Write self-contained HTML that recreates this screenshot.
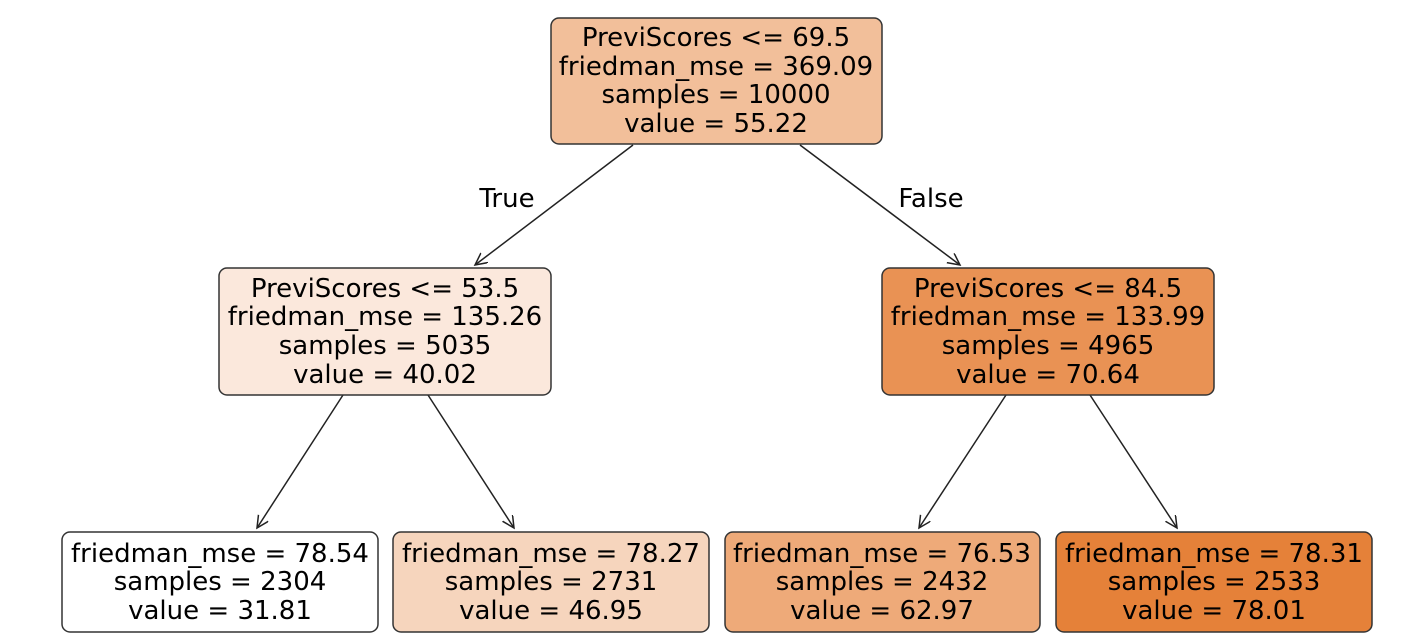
<!DOCTYPE html>
<html><head><meta charset="utf-8"><style>html,body{margin:0;padding:0;background:#fff}svg{display:block}</style></head>
<body>
<svg width="1404" height="644" viewBox="0 0 1404 644" xmlns="http://www.w3.org/2000/svg" font-family="DejaVu Sans, sans-serif" font-size="26" fill="#000">
<defs><marker id="a" markerWidth="14" markerHeight="14" refX="12" refY="6" orient="auto" markerUnits="userSpaceOnUse"><path d="M0,0 L12,6 L0,12" fill="none" stroke="#222" stroke-width="1.5"/></marker></defs>
<g stroke="#222" stroke-width="1.5" marker-end="url(#a)">
<line x1="633" y1="145" x2="475" y2="265"/>
<line x1="800" y1="145" x2="960" y2="265"/>
<line x1="343" y1="395" x2="257" y2="528"/>
<line x1="428" y1="395" x2="514" y2="528"/>
<line x1="1006" y1="395" x2="919" y2="528"/>
<line x1="1090" y1="395" x2="1177" y2="528"/>
</g>
<text x="507" y="207" text-anchor="middle">True</text>
<text x="931" y="207" text-anchor="middle">False</text>
<g stroke="#333" stroke-width="1.5">
<rect x="551" y="18" width="331" height="126" rx="8" fill="#f2bf9a"/>
<rect x="219" y="268" width="332" height="127" rx="8" fill="#fbe8dc"/>
<rect x="882" y="268" width="332" height="127" rx="8" fill="#e99254"/>
<rect x="62" y="532" width="316" height="100" rx="8" fill="#ffffff"/>
<rect x="393" y="532" width="316" height="100" rx="8" fill="#f6d5bd"/>
<rect x="725" y="532" width="315" height="100" rx="8" fill="#eeaa79"/>
<rect x="1056" y="532" width="316" height="100" rx="8" fill="#e58139"/>
</g>
<g text-anchor="middle">
<text x="716" y="46">PreviScores &lt;= 69.5</text>
<text x="716" y="75">friedman_mse = 369.09</text>
<text x="716" y="103">samples = 10000</text>
<text x="716" y="132">value = 55.22</text>
<text x="385" y="297">PreviScores &lt;= 53.5</text>
<text x="385" y="325">friedman_mse = 135.26</text>
<text x="385" y="354">samples = 5035</text>
<text x="385" y="383">value = 40.02</text>
<text x="1048" y="297">PreviScores &lt;= 84.5</text>
<text x="1048" y="325">friedman_mse = 133.99</text>
<text x="1048" y="354">samples = 4965</text>
<text x="1048" y="383">value = 70.64</text>
<text x="220" y="562">friedman_mse = 78.54</text>
<text x="220" y="590">samples = 2304</text>
<text x="220" y="619">value = 31.81</text>
<text x="551" y="562">friedman_mse = 78.27</text>
<text x="551" y="590">samples = 2731</text>
<text x="551" y="619">value = 46.95</text>
<text x="882" y="562">friedman_mse = 76.53</text>
<text x="882" y="590">samples = 2432</text>
<text x="882" y="619">value = 62.97</text>
<text x="1214" y="562">friedman_mse = 78.31</text>
<text x="1214" y="590">samples = 2533</text>
<text x="1214" y="619">value = 78.01</text>
</g>
</svg>
</body></html>
